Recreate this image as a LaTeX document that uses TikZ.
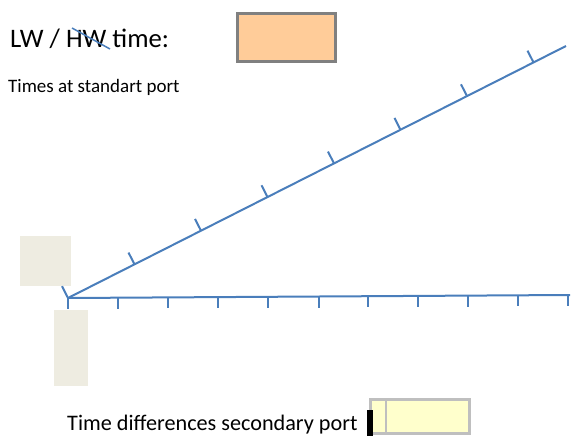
\documentclass[tikz,border=0pt]{standalone}
\usepackage{fontspec}
\setmainfont{Carlito}
\definecolor{axisblue}{HTML}{4A7EBB}
\definecolor{orangefill}{HTML}{FFCC99}
\definecolor{beige}{HTML}{EEECE1}
\definecolor{yellowfill}{HTML}{FFFFCC}
\definecolor{boxgray}{HTML}{808080}
\definecolor{lightgray}{HTML}{BFBFBF}
\begin{document}
\begin{tikzpicture}[x=1pt,y=-1pt,
  axis/.style={draw=axisblue,line width=2pt},
  tick/.style={draw=axisblue,line width=2pt},
  label/.style={anchor=base west,inner sep=0pt,text=black}]
\useasboundingbox (0,0) rectangle (573,439);
% texts
\node[label,font=\fontsize{26.7}{30}\selectfont] (title) at (10,47) {LW / HW time:};
\node[label,font=\fontsize{19}{22}\selectfont] (std) at (8,92) {Times at standart port};
\node[label,font=\fontsize{22.2}{26}\selectfont] (sec) at (67,430) {Time differences secondary port};
% strike over HW
\coordinate (s1) at (72,28);
\coordinate (s2) at (110,49);
\draw[axisblue,line width=1.5pt] (s1) -- (s2);
% orange box
\node[draw=boxgray,line width=3pt,fill=orangefill,minimum width=98pt,minimum height=48pt,inner sep=0pt] (ob) at (286,37) {};
% beige boxes
\fill[beige] (20,236) rectangle (71,286);
\fill[beige] (54,310) rectangle (88,386);
% yellow box
\node[draw=lightgray,line width=3pt,fill=yellowfill,minimum width=99pt,minimum height=34pt,inner sep=0pt] (yb) at (419.5,416) {};
\draw[lightgray,line width=2.5pt] (386,399) -- (386,433);
\fill[black] (366.5,410) rectangle (373,436);
% axes
\coordinate (O) at (68,298);
\coordinate (U) at (566,46);
\coordinate (H) at (570,295);
\draw[axis] (O) -- (U);
\draw[axis] (O) -- (H);
% ticks on upper line
\foreach \i in {0,...,7} {
  \path (O) -- (U) coordinate[pos={\i*66.5/498}] (u\i);
  \draw[tick] (u\i) -- ++(-6,-11.8);
}
% ticks on horizontal line
\foreach \x in {68,118,168,218,268,319,368,418,468,518,568} {
  \path (O) -- (H) coordinate[pos={(\x-68)/502}] (h\x);
  \draw[tick] (h\x) -- ++(0,11);
}
\end{tikzpicture}
\end{document}
